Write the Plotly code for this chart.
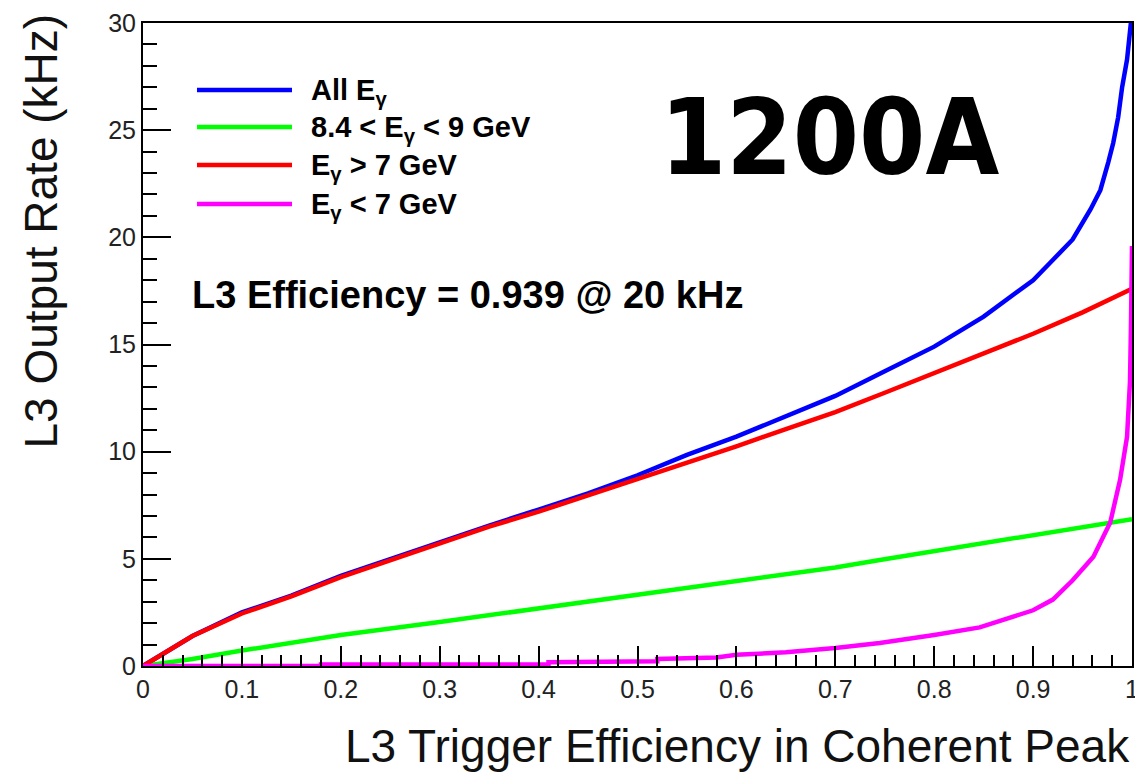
import plotly.graph_objects as go

# ---------------- data ----------------
all_x = [0, 0.05, 0.1, 0.15, 0.2, 0.25, 0.3, 0.35, 0.4, 0.45, 0.5, 0.55, 0.6, 0.65, 0.7,
         0.75, 0.8, 0.85, 0.877, 0.9, 0.917, 0.94, 0.958, 0.968, 0.976, 0.981, 0.986,
         0.99, 0.995, 0.998, 1.0]
all_y = [0, 1.4, 2.5, 3.28, 4.2, 5.0, 5.8, 6.55, 7.3, 8.05, 8.9, 9.85, 10.7, 11.65, 12.6,
         13.75, 14.9, 16.3, 17.2, 18.0, 18.8, 19.9, 21.3, 22.2, 23.5, 24.4, 25.6,
         27.0, 28.3, 30.0, 30.5]

mid_x = [0, 0.05, 0.1, 0.2, 0.3, 0.4, 0.5, 0.6, 0.7, 0.745, 0.8, 0.9, 1.0]
mid_y = [0, 0.33, 0.72, 1.45, 2.05, 2.7, 3.35, 3.95, 4.6, 4.95, 5.35, 6.1, 6.85]

hi_x = [0, 0.05, 0.1, 0.15, 0.2, 0.25, 0.3, 0.35, 0.4, 0.45, 0.5, 0.55, 0.6, 0.65, 0.7,
        0.75, 0.8, 0.85, 0.9, 0.95, 1.0]
hi_y = [0, 1.4, 2.45, 3.25, 4.15, 4.95, 5.75, 6.5, 7.2, 7.95, 8.7, 9.5, 10.25, 11.05,
        11.85, 12.75, 13.65, 14.55, 15.5, 16.5, 17.6]

lo_x = [0, 0.18, 0.18, 0.41, 0.41, 0.52, 0.52, 0.58, 0.6, 0.65, 0.7, 0.745, 0.8, 0.846,
        0.9, 0.92, 0.94, 0.961, 0.978, 0.988, 0.995, 0.998, 0.999, 1.0]
lo_y = [0, 0, 0.07, 0.07, 0.18, 0.22, 0.33, 0.4, 0.52, 0.64, 0.84, 1.07, 1.45, 1.8,
        2.6, 3.1, 4.0, 5.1, 6.7, 8.7, 10.7, 13.3, 16.0, 19.6]

series_names = ["All E<sub>γ</sub>",
                "8.4 &lt; E<sub>γ</sub> &lt; 9 GeV",
                "E<sub>γ</sub> &gt; 7 GeV",
                "E<sub>γ</sub> &lt; 7 GeV"]
series_colors = ["#0000ff", "#00ff00", "#ff0000", "#ff00ff"]

x_tickvals = [0, 0.1, 0.2, 0.3, 0.4, 0.5, 0.6, 0.7, 0.8, 0.9, 1.0]
x_ticktext = ["0", "0.1", "0.2", "0.3", "0.4", "0.5", "0.6", "0.7", "0.8", "0.9", "1"]
y_tickvals = [0, 5, 10, 15, 20, 25, 30]
y_ticktext = ["0", "5", "10", "15", "20", "25", "30"]

x_title = "L3 Trigger Efficiency in Coherent Peak"
y_title = "L3 Output Rate (kHz)"
eff_text = "L3 Efficiency = 0.939 @ 20 kHz"
tag_text = "1200A"

# ---------------- figure ----------------
W, H = 1135, 773
L, R, T, B = 143, 3, 23, 107
pw, ph = W - L - R, H - T - B


def px2paper_x(px):
    return (px - L) / pw


def px2paper_y(py):
    return (H - B - py) / ph


fig = go.Figure()
data = [(all_x, all_y), (mid_x, mid_y), (hi_x, hi_y), (lo_x, lo_y)]
for (xs, ys), name, col in zip(data, series_names, series_colors):
    fig.add_trace(go.Scatter(x=xs, y=ys, mode="lines", name=name,
                             line=dict(color=col, width=4.5), showlegend=False))

font_main = "Liberation Sans, Arial, Helvetica, sans-serif"

fig.update_layout(
    width=W, height=H,
    margin=dict(l=L, r=R, t=T, b=B, autoexpand=False),
    paper_bgcolor="white", plot_bgcolor="white",
    font=dict(family=font_main, color="black"),
    xaxis=dict(range=[0, 1], tickvals=x_tickvals, ticktext=x_ticktext,
               ticks="inside", ticklen=20, tickwidth=2, tickcolor="black",
               showline=True, linecolor="black", linewidth=2, mirror=True,
               showgrid=False, zeroline=False, ticklabeloverflow="allow",
               automargin=False,
               tickfont=dict(size=25, color="#222"),
               minor=dict(ticks="inside", ticklen=11, tickwidth=2, tickcolor="black",
                          dtick=0.02, showgrid=False)),
    yaxis=dict(range=[0, 30], tickvals=y_tickvals, ticktext=y_ticktext,
               ticks="inside", ticklen=28, tickwidth=2, tickcolor="black",
               showline=True, linecolor="black", linewidth=2, mirror=True,
               showgrid=False, zeroline=False, ticklabeloverflow="allow",
               automargin=False,
               tickfont=dict(size=25, color="#222"),
               minor=dict(ticks="inside", ticklen=14, tickwidth=2, tickcolor="black",
                          dtick=1, showgrid=False)),
)

# axis titles (ROOT style: right / top aligned)
fig.add_annotation(text=x_title, xref="paper", yref="paper",
                   x=1.0, y=px2paper_y(746), xanchor="right", yanchor="middle",
                   showarrow=False, font=dict(size=46, color="#111", family=font_main))
fig.add_annotation(text=y_title, xref="paper", yref="paper", textangle=-90,
                   x=px2paper_x(40), y=px2paper_y(12), xanchor="center", yanchor="top",
                   showarrow=False, font=dict(size=46, color="#111", family=font_main))

# legend drawn as in the reference (long line samples)
leg_rows = [90, 127, 165, 204]
for row, name, col in zip(leg_rows, series_names, series_colors):
    yp = px2paper_y(row)
    fig.add_shape(type="line", xref="paper", yref="paper",
                  x0=px2paper_x(197), x1=px2paper_x(292), y0=yp, y1=yp,
                  line=dict(color=col, width=4.5))
    fig.add_annotation(text="<b>" + name + "</b>", xref="paper", yref="paper",
                       x=px2paper_x(309), y=px2paper_y(row + 2), xanchor="left",
                       yanchor="middle", showarrow=False,
                       font=dict(size=29, color="black", family=font_main))

fig.add_annotation(text="<b>" + eff_text + "</b>", xref="paper", yref="paper",
                   x=px2paper_x(190), y=px2paper_y(295), xanchor="left", yanchor="middle",
                   showarrow=False, font=dict(size=38, color="black", family=font_main))

fig.add_annotation(text="<b>" + tag_text + "</b>", xref="paper", yref="paper",
                   x=px2paper_x(829), y=px2paper_y(138), xanchor="center", yanchor="middle",
                   showarrow=False,
                   font=dict(size=106, color="black",
                             family="DejaVu Sans Condensed, Liberation Sans Narrow, sans-serif"))

fig.write_html("out.html")
